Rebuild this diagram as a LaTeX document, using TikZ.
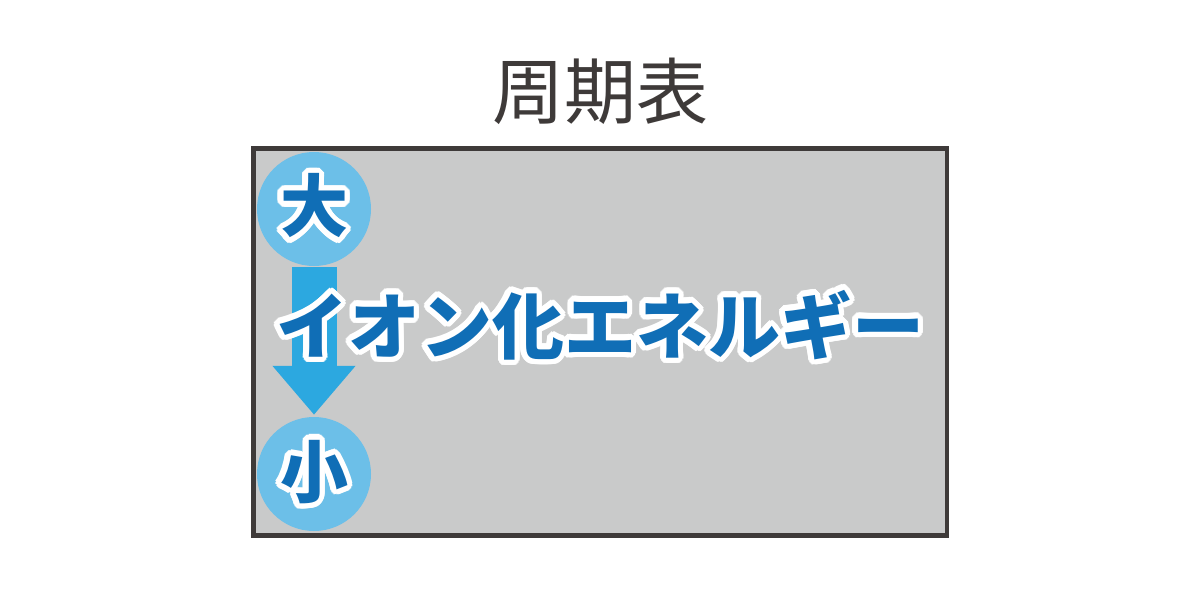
\documentclass[tikz,border=0pt]{standalone}
\usepackage{fontspec}
\newfontfamily\jpfont{Noto Sans CJK JP}
\usetikzlibrary{arrows.meta,positioning}
\definecolor{ionblue}{HTML}{106EB6}
\definecolor{badgeblue}{HTML}{6CBFE8}
\definecolor{arrowblue}{HTML}{2CA8E0}
\definecolor{tablegray}{HTML}{C9CACA}
\definecolor{framegray}{HTML}{3E3A39}

\begin{document}
\begin{tikzpicture}[x=1pt,y=-1pt,
    frame/.style={draw=framegray,line width=4.5pt,fill=tablegray},
    badge/.style={circle,fill=badgeblue,minimum size=114pt,inner sep=0pt},
    bigjp/.style={font=\jpfont\bfseries\fontsize{72}{72}\selectfont,inner sep=0pt,text=ionblue},
    smalljp/.style={font=\jpfont\bfseries\fontsize{68}{68}\selectfont,inner sep=0pt,text=ionblue},
    rim/.style={text=white}]
  \useasboundingbox (0,0) rectangle (1200,600);
  \node[font=\jpfont\fontsize{72}{72}\selectfont,text=framegray] (title) at (600,91) {周期表};
  \draw[frame] (253.5,148.5) rectangle (947,535.5);
  % large -> small
  \node[badge] (big) at (314,209) {};
  \node[badge] (small) at (314,474) {};
  \draw[arrowblue,line width=45pt,-{Triangle[width=80pt,length=49pt]},shorten <=1pt,shorten >=2pt] (big) -- (small);
  \coordinate (ie) at (600,325);
  \coordinate (bigc) at (314,206);
  \coordinate (smallc) at (314,472);
  \foreach \a in {0,15,...,345}{
    \node[smalljp,rim] at ([shift={(\a:5.5)}]bigc) {大};
    \node[smalljp,rim] at ([shift={(\a:5.5)}]smallc) {小};
    \node[bigjp,rim] at ([shift={(\a:5.5)}]ie) {イオン化エネルギー};
  }
  \node[smalljp] (bigtext) at (bigc) {大};
  \node[smalljp] (smalltext) at (smallc) {小};
  \node[bigjp] (ietext) at (ie) {イオン化エネルギー};
\end{tikzpicture}
\end{document}
